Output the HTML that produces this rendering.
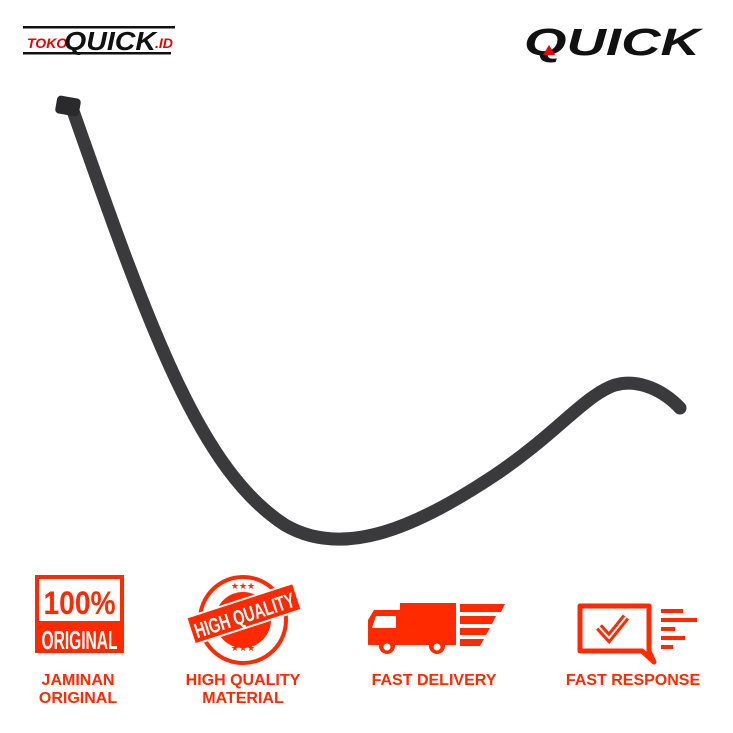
<!DOCTYPE html><html><head><style>
body{margin:0;width:733px;height:733px;background:#fff;overflow:hidden;position:relative;font-family:"Liberation Sans",sans-serif}
.l{position:absolute;color:#ff2a00;font-weight:bold;font-size:16px;text-align:center;line-height:18px}
</style></head><body>
<svg width="733" height="733" style="position:absolute;left:0;top:0">
<rect x="23" y="26" width="152" height="2.5" fill="#111"/>
<rect x="23" y="52" width="148" height="2.5" fill="#111"/>
<text x="27" y="48" font-family="Liberation Sans" font-weight="bold" font-style="italic" font-size="14" fill="#e00">TOKO</text>
<text x="64" y="50" font-family="Liberation Sans" font-weight="bold" font-style="italic" font-size="26" fill="#111" textLength="92" lengthAdjust="spacingAndGlyphs">QUICK</text>
<text x="155" y="48" font-family="Liberation Sans" font-weight="bold" font-style="italic" font-size="14" fill="#e00">.ID</text>
<text x="524" y="55" font-family="Liberation Sans" font-weight="bold" font-style="italic" font-size="38" fill="#111" textLength="176" lengthAdjust="spacingAndGlyphs">QUICK</text>
<polygon points="543,55 549,45 555,55" fill="#e00"/>
<path d="M72 108 C150 330,200 470,285 525 C345 560,420 525,495 475 C555 435,585 395,615 385 C640 378,665 392,680 408" fill="none" stroke="#3a3a3c" stroke-width="13" stroke-linecap="round"/>
<rect x="56" y="97" width="24" height="18" rx="4" fill="#2a2a2c" transform="rotate(10 68 106)"/>
<rect x="35" y="575" width="89" height="78" fill="#ff2a00"/>
<rect x="39" y="579" width="81" height="42" fill="#fff"/>
<text x="79.5" y="614" text-anchor="middle" font-family="Liberation Sans" font-weight="bold" font-size="32" fill="#ff2a00" textLength="72" lengthAdjust="spacingAndGlyphs">100%</text>
<text x="79.5" y="649" text-anchor="middle" font-family="Liberation Sans" font-weight="bold" font-size="26" fill="#fff" textLength="76" lengthAdjust="spacingAndGlyphs">ORIGINAL</text>
<circle cx="243" cy="620" r="43" fill="none" stroke="#ff2a00" stroke-width="4"/>
<circle cx="243" cy="620" r="28" fill="#ff2a00"/>
<g transform="rotate(-18 243 614)"><rect x="188" y="600" width="112" height="28" fill="#ff2a00" stroke="#fff" stroke-width="2"/>
<text x="244" y="623" text-anchor="middle" font-family="Liberation Sans" font-weight="bold" font-size="21" fill="#fff" textLength="104" lengthAdjust="spacingAndGlyphs">HIGH QUALITY</text></g>
<text x="243" y="589" text-anchor="middle" font-size="9" fill="#ff2a00">★★★</text>
<text x="243" y="651" text-anchor="middle" font-size="9" fill="#ff2a00">★★★</text>
<rect x="400" y="603" width="56" height="42" fill="#ff2a00"/>
<path d="M368 645 L368 620 L374 610 L400 610 L400 645 Z" fill="#ff2a00"/>
<path d="M372 628 L376 616 L396 616 L396 628 Z" fill="#fff"/>
<circle cx="387" cy="646" r="8" fill="#ff2a00"/><circle cx="387" cy="647" r="3.5" fill="#fff"/>
<circle cx="437" cy="646" r="8" fill="#ff2a00"/><circle cx="437" cy="647" r="3.5" fill="#fff"/>
<polygon points="460,604 505,604 501,612 460,612" fill="#ff2a00"/>
<polygon points="460,616 496,616 492,624 460,624" fill="#ff2a00"/>
<polygon points="460,628 490,628 486,635 460,635" fill="#ff2a00"/>
<polygon points="460,639 484,639 480,646 460,646" fill="#ff2a00"/>
<path d="M580 606 L649 606 L649 651 L654 662 L642 651 L580 651 Z" fill="none" stroke="#ff2a00" stroke-width="5" stroke-linejoin="round"/>
<path d="M599 627 L609 638 L626 617" fill="none" stroke="#ff2a00" stroke-width="8"/>
<path d="M599 627 L609 638 L626 617" fill="none" stroke="#fff" stroke-width="2"/>
<rect x="661" y="609" width="22" height="4" fill="#ff2a00"/>
<rect x="661" y="618" width="36" height="4" fill="#ff2a00"/>
<rect x="661" y="627" width="14" height="4" fill="#ff2a00"/>
<rect x="661" y="636" width="24" height="4" fill="#ff2a00"/>
<rect x="661" y="645" width="12" height="4" fill="#ff2a00"/>
</svg>
<div class="l" style="left:18px;top:672px;width:120px">JAMINAN<br>ORIGINAL</div>
<div class="l" style="left:173px;top:672px;width:140px">HIGH QUALITY<br>MATERIAL</div>
<div class="l" style="left:364px;top:672px;width:140px">FAST DELIVERY</div>
<div class="l" style="left:558px;top:672px;width:150px">FAST RESPONSE</div>
</body></html>
